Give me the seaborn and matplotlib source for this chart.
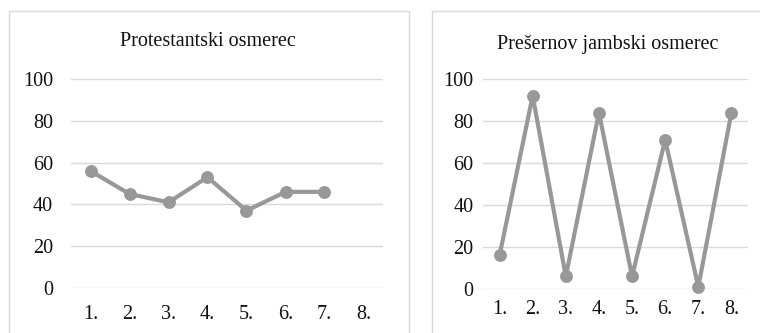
import matplotlib
matplotlib.use("Agg")
import matplotlib.pyplot as plt
from matplotlib.patches import Rectangle
import seaborn as sns
import pandas as pd

categories = ["1.", "2.", "3.", "4.", "5.", "6.", "7.", "8."]
protestant_values = [56, 45, 41, 53, 37, 46, 46]
presern_values = [16, 92, 6, 84, 6, 71, 1, 84]
title_left = "Protestantski osmerec"
title_right = "Prešernov jambski osmerec"
yticks = [0, 20, 40, 60, 80, 100]

sns.set_theme(style="white")
plt.rcParams["font.family"] = ["Liberation Serif", "DejaVu Serif"]

W, H = 760, 333
fig = plt.figure(figsize=(W / 100, H / 100), dpi=100)
fig.patch.set_facecolor("white")

border = "#d9d9d9"
line_color = "#989898"

def px_rect(x0, y0, x1, y1):
    return Rectangle((x0 / W, 1 - y1 / H), (x1 - x0) / W, (y1 - y0) / H,
                     transform=fig.transFigure, fill=False, edgecolor=border,
                     linewidth=1.0)

fig.patches.append(px_rect(8.5, 10.5, 408.5, 345))
fig.patches.append(px_rect(431.5, 10.5, 800, 345))

def make_ax(x0, x1, ytop, ybot):
    return fig.add_axes([x0 / W, 1 - ybot / H, (x1 - x0) / W, (ybot - ytop) / H])

ax1 = make_ax(71, 383, 79, 288)
ax2 = make_ax(483, 748, 79, 289)

df1 = pd.DataFrame({"cat": categories[:len(protestant_values)], "val": protestant_values})
df2 = pd.DataFrame({"cat": categories, "val": presern_values})

for ax, df, ypad, xpad in [(ax1, df1, 13, 12), (ax2, df2, 7, 8)]:
    sns.pointplot(data=df, x="cat", y="val", order=categories, ax=ax,
                  color=line_color, markersize=7, linewidth=3.0,
                  errorbar=None)
    for coll in ax.collections:
        coll.set_clip_on(False)
    for ln in ax.lines:
        ln.set_clip_on(False)
        ln.set_solid_capstyle("round")
        ln.set_solid_joinstyle("round")
    ax.set_xlim(-0.5, len(categories) - 0.5)
    ax.set_ylim(0, 100)
    ax.set_yticks(yticks)
    ax.set_yticklabels([str(v) for v in yticks])
    ax.set_xlabel("")
    ax.set_ylabel("")
    ax.grid(axis="y", color=border, linewidth=1.0)
    ax.grid(axis="x", visible=False)
    ax.set_axisbelow(True)
    for s in ax.spines.values():
        s.set_visible(False)
    ax.tick_params(axis="y", length=0, pad=ypad, labelsize=14.5, colors="#111111")
    ax.tick_params(axis="x", length=0, pad=xpad, labelsize=14.5, colors="#111111")
    ax.set_facecolor("none")

fig.text(208 / W, 1 - 41 / H, title_left, ha="center", va="center",
         fontsize=14.5, color="#111111")
fig.text(608 / W, 1 - 44 / H, title_right, ha="center", va="center",
         fontsize=14.5, color="#111111")

fig.savefig("out.png", dpi=100, facecolor="white")
